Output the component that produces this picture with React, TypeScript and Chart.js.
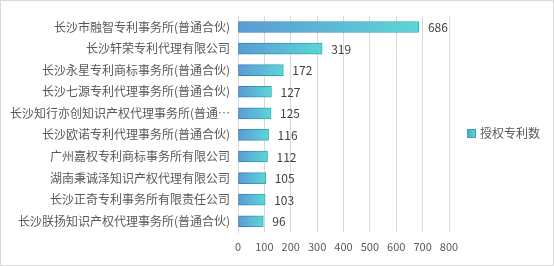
import React, { useEffect, useRef } from "react";
import { Chart, registerables } from "chart.js";

Chart.register(...registerables);

const categories = [
  "长沙市融智专利事务所(普通合伙)",
  "长沙轩荣专利代理有限公司",
  "长沙永星专利商标事务所(普通合伙)",
  "长沙七源专利代理事务所(普通合伙)",
  "长沙知行亦创知识产权代理事务所(普通…",
  "长沙欧诺专利代理事务所(普通合伙)",
  "广州嘉权专利商标事务所有限公司",
  "湖南秉诚泽知识产权代理有限公司",
  "长沙正奇专利事务所有限责任公司",
  "长沙朕扬知识产权代理事务所(普通合伙)",
];
const values = [686, 319, 172, 127, 125, 116, 112, 105, 103, 96];
const seriesName = "授权专利数";
const xMax = 800;
const xStep = 100;

const CJK = '"Noto Sans CJK SC", "Noto Sans", sans-serif';

function makeGrad(ctx: CanvasRenderingContext2D, x0: number, x1: number, a: string, b: string) {
  if (!isFinite(x0) || !isFinite(x1)) return a;
  const g = ctx.createLinearGradient(x0, 0, Math.max(x1, x0 + 1), 0);
  g.addColorStop(0, a);
  g.addColorStop(1, b);
  return g;
}

export default function App() {
  const ref = useRef<HTMLCanvasElement | null>(null);
  useEffect(() => {
    const canvas = ref.current!;
    const labelPlugin = {
      id: "valueLabels",
      afterDatasetsDraw(chart: any) {
        const ctx = chart.ctx;
        const meta = chart.getDatasetMeta(0);
        ctx.save();
        ctx.font = `12px ${CJK}`;
        ctx.fillStyle = "#404040";
        ctx.textAlign = "left";
        ctx.textBaseline = "middle";
        meta.data.forEach((el: any, i: number) => {
          ctx.fillText(String(values[i]), el.x + 9, el.y + 0.5);
        });
        // legend
        const bx = 466, by = 128, bs = 9;
        ctx.fillStyle = makeGrad(ctx, bx, bx + bs, "#5a9fd6", "#5dd6d6");
        ctx.fillRect(bx, by, bs, bs);
        ctx.strokeStyle = "#2fa9b0";
        ctx.lineWidth = 1;
        ctx.strokeRect(bx + 0.5, by + 0.5, bs - 1, bs - 1);
        ctx.fillStyle = "#595959";
        ctx.font = `12px ${CJK}`;
        ctx.fillText(seriesName, 479, by + 4.5);
        ctx.restore();
      },
    };
    const gradFor = (c: any, a: string, b: string) => {
      const ch = c.chart;
      const xs = ch.scales?.x;
      if (!xs || c.dataIndex === undefined) return a;
      const x0 = xs.getPixelForValue(0);
      const x1 = xs.getPixelForValue(values[c.dataIndex]);
      return makeGrad(ch.ctx, x0, x1, a, b);
    };
    const chart = new Chart(canvas, {
      type: "bar",
      data: {
        labels: categories,
        datasets: [
          {
            label: seriesName,
            data: values,
            backgroundColor: (c: any) => gradFor(c, "#5a9bd5", "#5dd6d6"),
            borderColor: (c: any) => gradFor(c, "#3a78b8", "#2fb2b2"),
            borderWidth: 1,
            borderSkipped: false,
            barThickness: 11,
          },
        ],
      },
      options: {
        indexAxis: "y",
        animation: false,
        responsive: false,
        maintainAspectRatio: false,
        layout: { padding: { top: 15, right: 104, bottom: 0, left: 0 } },
        plugins: {
          legend: { display: false },
          tooltip: { enabled: false },
        },
        scales: {
          x: {
            min: 0,
            max: xMax,
            ticks: {
              stepSize: xStep,
              color: "#595959",
              font: { size: 11, family: CJK },
              padding: 8,
            },
            grid: { color: "#d9d9d9", drawTicks: false },
            border: { display: false },
            afterFit: (s: any) => {
              s.height = 33;
            },
          },
          y: {
            ticks: {
              color: "#595959",
              font: { size: 12, family: CJK },
              padding: 8,
              autoSkip: false,
            },
            grid: { display: false, drawTicks: false },
            border: { display: true, color: "#d9d9d9" },
            afterFit: (s: any) => {
              s.width = 237;
            },
          },
        },
      },
      plugins: [labelPlugin],
    } as any);
    chart.update();
    return () => chart.destroy();
  }, []);
  return (
    <div
      style={{
        position: "absolute",
        left: 0,
        top: 0,
        width: 554,
        height: 266,
        boxSizing: "border-box",
        border: "1px solid #d9d9d9",
        background: "#fff",
      }}
    >
      <canvas ref={ref} width={552} height={264} style={{ display: "block" }} />
    </div>
  );
}
